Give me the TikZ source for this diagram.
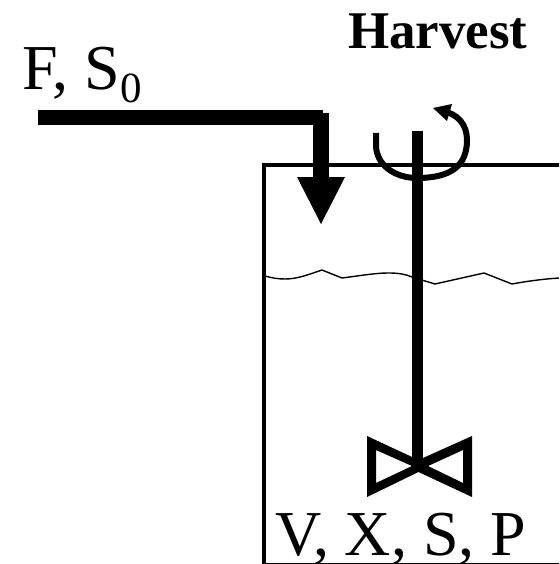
\documentclass[tikz,border=0pt]{standalone}
\usepackage{fontspec}
\setmainfont{Liberation Serif}
\tikzset{
  px/.style={x=1pt,y=-1pt},
  label/.style={inner sep=0pt,outer sep=0pt,anchor=base west,text=black},
  tank/.style={draw=black,line width=4pt,line cap=butt,line join=miter},
  pipe/.style={draw=black,line width=15.5pt,line cap=butt,line join=miter},
  shaft/.style={draw=black,line width=11.5pt,line cap=butt},
  water/.style={draw=black,line width=1.4pt,line join=round},
  rotor/.style={draw=black,line width=6pt,line cap=butt}
}
\begin{document}
\begin{tikzpicture}[px]
\useasboundingbox (0,0) rectangle (559,564);
\clip (0,0) rectangle (559,564);
% tank
\coordinate (tankTR) at (565,165);
\coordinate (tankTL) at (264,165);
\coordinate (tankBL) at (264,563.5);
\coordinate (tankBR) at (565,563.5);
\draw[tank] (tankTR) -- (tankTL) -- (tankBL);
\draw[draw=black,line width=1.5pt] (tankBL) -- (tankBR);
% liquid surface
\draw[water] (265,276) .. controls (272,278) and (278,279) .. (285,279)
  .. controls (298,279) and (310,274) .. (322,270) -- (342,278)
  .. controls (358,276) and (375,273) .. (388,273)
  .. controls (398,273) and (405,274) .. (412,277) -- (435,284) -- (484,273) -- (512,284)
  .. controls (528,281) and (544,279) .. (559,278);
% feed pipe
\coordinate (feedStart) at (38,117.7);
\coordinate (feedCorner) at (323,117.7);
\coordinate (feedTop) at (321,113);
\coordinate (feedEnd) at (321,178);
\draw[pipe] (feedStart) -- (feedCorner);
\draw[pipe] (feedTop) -- (feedEnd);
\fill[black] (297,177) -- (345,177) -- (321,224) -- cycle;
% shaft
\coordinate (shaftTop) at (417.5,131);
\coordinate (shaftBot) at (417.5,462);
\draw[shaft] (shaftTop) -- (shaftBot);
% rotation arrow
\draw[rotor] (376,133) -- (376,145) .. controls (376,165) and (395,178) .. (417,178)
  .. controls (452,178) and (467,165) .. (467,140)
  .. controls (467,125) and (458,113) .. (441,111);
\fill[black] (433,108) -- (452,104) -- (447,121) -- cycle;
% impeller
\fill[black,even odd rule] (367,436) -- (418.5,460) -- (472,436) -- (472,497) -- (418.5,472) -- (367,497) -- cycle
  (376,450) -- (376,483) -- (412,466) -- cycle
  (463,450) -- (463,483) -- (428,466) -- cycle;
% labels
\node[label] (harvest) at (348,49) {\fontsize{53}{53}\selectfont\bfseries Harvest};
\node[label] (feed) at (22,90) {\fontsize{64}{64}\selectfont F, S\raisebox{-0.2em}{\fontsize{43}{43}\selectfont 0}};
\node[label] (contents) at (275,555) {\fontsize{64}{64}\selectfont V, X, S, P};
\end{tikzpicture}
\end{document}
